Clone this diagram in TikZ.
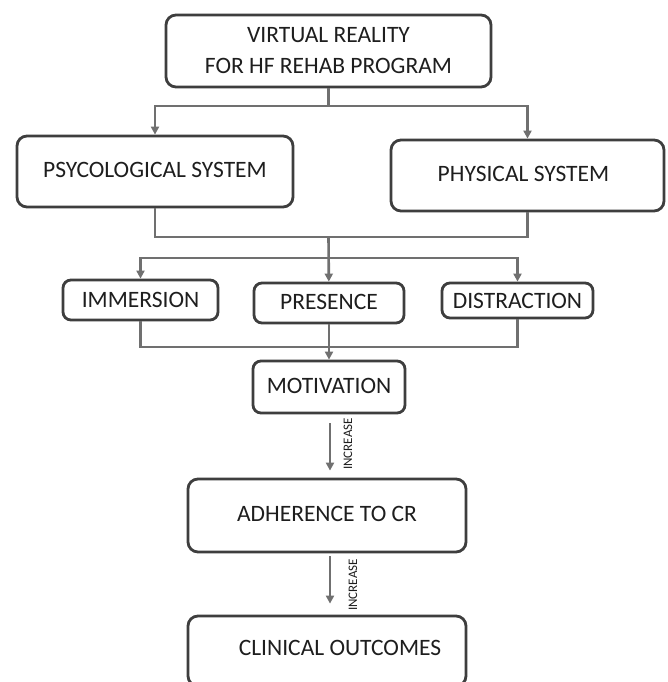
\documentclass[tikz,border=0pt]{standalone}
\usepackage{fontspec}
\setmainfont{Carlito}
\usetikzlibrary{arrows.meta}
\definecolor{boxline}{HTML}{3E3E3E}
\definecolor{conn}{HTML}{707070}
\definecolor{txt}{HTML}{1E1E1E}
\begin{document}
\begin{tikzpicture}[x=1pt,y=-1pt,
  box/.style={draw=boxline, line width=2.8pt, rounded corners=10pt, inner sep=0pt,
    text=txt, font=\fontsize{23.5}{31}\selectfont, align=center},
  smallbox/.style={box, rounded corners=8pt},
  link/.style={draw=conn, line width=2.6pt},
  arr/.style={link, -{Triangle[length=8pt,width=8pt]}},
  inc/.style={rotate=90, text=txt, font=\fontsize{13}{13}\selectfont, inner sep=0pt}]
\clip (0,0) rectangle (668,682);
\fill[white] (0,0) rectangle (668,682);
% boxes
\node[box, minimum width=325pt, minimum height=72pt] (vr) at (328.5,51)
  {\raisebox{-4pt}{\parbox{320pt}{\centering VIRTUAL REALITY\\FOR HF REHAB PROGRAM}}};
\node[box, minimum width=276pt, minimum height=71pt] (psy) at (155,171.5)
  {\raisebox{3pt}{PSYCOLOGICAL SYSTEM}};
\node[box, minimum width=273pt, minimum height=71pt] (phy) at (527.5,175.5)
  {\raisebox{3pt}{PHYSICAL SYSTEM}\hspace*{8pt}};
\node[smallbox, minimum width=155pt, minimum height=40pt] (imm) at (140.5,300) {IMMERSION};
\node[smallbox, minimum width=150pt, minimum height=40pt] (pre) at (329,303) {\raisebox{2pt}{PRESENCE}};
\node[smallbox, minimum width=151pt, minimum height=35pt] (dis) at (517.5,300.5) {DISTRACTION};
\node[smallbox, minimum width=152pt, minimum height=52pt] (mot) at (329,387) {\raisebox{2pt}{MOTIVATION}};
\node[box, minimum width=278pt, minimum height=73pt] (adh) at (327,515.5) {\raisebox{3pt}{ADHERENCE TO CR}};
\node[box, minimum width=278pt, minimum height=70pt] (cli) at (327,651)
  {\hspace*{26pt}\raisebox{6pt}{CLINICAL OUTCOMES}};
% junctions
\coordinate (j1) at (328.5,106);
\coordinate (j2) at (328.5,237);
\coordinate (j3) at (328.5,258);
\coordinate (j4) at (329,347);
% connectors
\draw[link] (vr) -- (j1);
\draw[arr] (j1) -| (psy);
\draw[arr] (j1) -| (phy);
\draw[link] (psy) |- (j2) -| (phy);
\draw[arr] (j2) -- (pre);
\draw[arr] (j3) -| (imm);
\draw[arr] (j3) -| (dis);
\draw[link] (imm) |- (j4) -| (dis);
\draw[arr] (pre) -- (mot);
\draw[arr, shorten <=9pt, shorten >=7pt] ([xshift=1pt]mot.south) -- ([xshift=3pt]adh.north);
\draw[arr, shorten <=3pt, shorten >=11pt] ([xshift=3pt]adh.south) -- ([xshift=3pt]cli.north);
\node[inc] (l1) at (348,444) {INCREASE};
\node[inc] (l2) at (353,585) {INCREASE};
\end{tikzpicture}
\end{document}
